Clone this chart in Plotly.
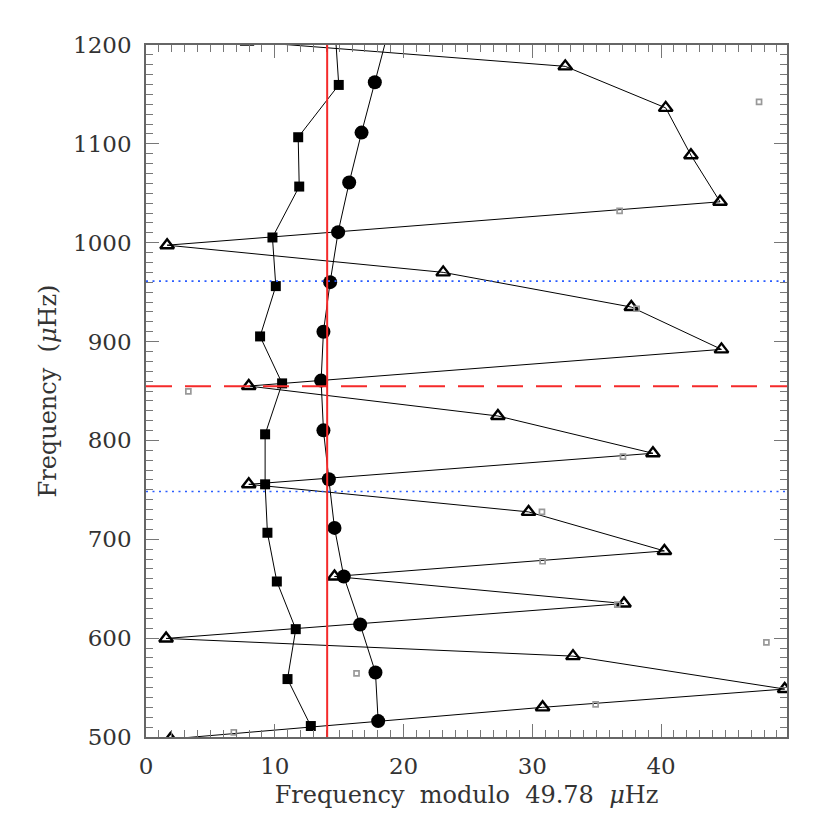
import plotly.graph_objects as go

# ---- data ----
DELTA_NU = 49.78

# l=0 ridge (filled circles)
circ_x = [18.8, 17.77, 16.74, 15.78, 14.92, 14.30, 13.78, 13.60, 13.78, 14.20, 14.64, 15.36, 16.63, 17.82, 18.03]
circ_y = [1213, 1162.3, 1111.4, 1060.9, 1010.7, 960.1, 910.0, 860.5, 810.2, 760.7, 711.5, 662.4, 613.8, 565.3, 516.1]

# l=2 ridge (filled squares)
sq_x = [14.7, 14.97, 11.82, 11.90, 9.82, 10.08, 8.86, 10.57, 9.25, 9.25, 9.43, 10.16, 11.63, 10.99, 12.80]
sq_y = [1212, 1159.6, 1106.7, 1056.8, 1005.3, 956.1, 905.2, 857.7, 806.2, 755.6, 706.6, 657.3, 609.1, 558.6, 511.1]

# l=1 mixed modes (open triangles), connected in frequency order
tri_x = [7.85, 32.56, 40.36, 42.32, 44.58, 1.64, 23.08, 37.69, 44.69, 7.98, 27.33, 39.37,
         7.98, 29.71, 40.26, 14.64, 37.12, 1.56, 33.16, 49.60, 30.80, 1.90]
tri_y = [1203.5, 1178.4, 1136.4, 1088.5, 1041.4, 997.5, 970.0, 934.9, 892.1, 855.0, 824.7, 787.0,
         755.6, 727.7, 688.2, 662.4, 635.0, 599.7, 581.8, 548.5, 530.0, 498.0]

# other observed frequencies (small grey open squares)
obs_x = [47.61, 36.78, 38.10, 3.29, 37.04, 30.75, 30.80, 36.60, 48.18, 16.35, 34.92, 6.82]
obs_y = [1142.4, 1032.3, 933.2, 849.6, 783.6, 727.7, 677.8, 634.0, 595.7, 564.3, 533.0, 504.7]

# reference lines
vline_x = [14.07]
dashed_y = [854.7]
dotted_y = [961.1, 748.3]

x_range = [0, DELTA_NU]
y_range = [500, 1200]
x_ticks = [0, 10, 20, 30, 40]
y_ticks = [500, 600, 700, 800, 900, 1000, 1100, 1200]

FONT = "DejaVu Serif"
TXT = "#333333"
SP = " \u00a0"

fig = go.Figure()

fig.add_trace(go.Scatter(
    x=tri_x, y=tri_y, mode="lines+markers",
    line=dict(color="black", width=1),
    marker=dict(symbol="triangle-up-open", size=12, color="black", line=dict(width=2.4)),
    showlegend=False))

fig.add_trace(go.Scatter(
    x=obs_x, y=obs_y, mode="markers",
    marker=dict(symbol="square-open", size=5, color="#999999", line=dict(width=1.7)),
    showlegend=False))

fig.add_trace(go.Scatter(
    x=sq_x, y=sq_y, mode="lines+markers",
    line=dict(color="black", width=1),
    marker=dict(symbol="square", size=10, color="black"),
    showlegend=False))

fig.add_trace(go.Scatter(
    x=circ_x, y=circ_y, mode="lines+markers",
    line=dict(color="black", width=1),
    marker=dict(symbol="circle", size=14, color="black"),
    showlegend=False))

for xv in vline_x:
    fig.add_shape(type="line", xref="x", yref="paper", x0=xv, x1=xv, y0=0, y1=1,
                  line=dict(color="#f52a2a", width=2), layer="above")
for yv in dashed_y:
    fig.add_shape(type="line", xref="paper", yref="y", x0=0, x1=1, y0=yv, y1=yv,
                  line=dict(color="#f52a2a", width=2, dash="26px,13px"), layer="above")
for yv in dotted_y:
    fig.add_shape(type="line", xref="paper", yref="y", x0=0, x1=1, y0=yv, y1=yv,
                  line=dict(color="#2a5cff", width=1.6, dash="2px,4.5px"), layer="above")

axis_common = dict(
    showline=True, linecolor="#666666", linewidth=1.5, mirror="ticks",
    ticks="inside", tickcolor="#777777", ticklen=13, tickwidth=1,
    showgrid=False, zeroline=False, automargin=False,
    tickfont=dict(family=FONT, size=23, color=TXT),
)

fig.update_xaxes(
    range=x_range, tickvals=x_ticks, ticktext=[str(v) for v in x_ticks],
    minor=dict(dtick=1, tick0=0, ticks="inside", ticklen=7, tickcolor="#777777", showgrid=False),
    title=dict(text="Frequency" + SP + "modulo" + SP + "49.78" + SP + "<i>μ</i>Hz",
               font=dict(family=FONT, size=24, color=TXT), standoff=8),
    ticklabelstandoff=8,
    **axis_common)

fig.update_yaxes(
    range=y_range, tickvals=y_ticks, ticktext=[str(v) for v in y_ticks],
    minor=dict(dtick=10, tick0=0, ticks="inside", ticklen=7, tickcolor="#777777", showgrid=False),
    title=dict(text="Frequency" + SP + "(<i>μ</i>Hz)", font=dict(family=FONT, size=24, color=TXT),
               standoff=10),
    ticklabelstandoff=8,
    **axis_common)

fig.update_layout(
    width=822, height=822,
    margin=dict(l=138, r=43, t=37, b=93),
    plot_bgcolor="white", paper_bgcolor="white",
    showlegend=False,
)

fig.write_html("out.html")
